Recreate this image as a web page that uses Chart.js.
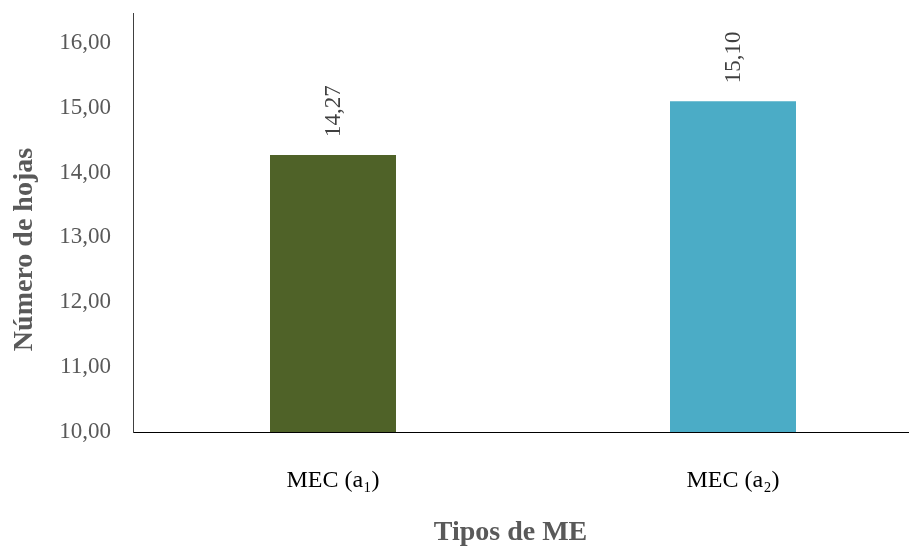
<!DOCTYPE html>
<html><head><meta charset="utf-8">
<script src="https://cdn.jsdelivr.net/npm/chart.js@4/dist/chart.umd.min.js"></script>
<style>html,body{margin:0;padding:0;background:#fff;overflow:hidden}#wrap{width:909px;height:546px;position:relative}</style>
</head><body><div id="wrap"><canvas id="c" width="909" height="546"></canvas></div>
<script>
const categories = ['MEC (a₁)', 'MEC (a₂)'];
const values = [14.27, 15.10];
const barColors = ['#4F6228', '#4BACC6'];
const yTicks = [10, 11, 12, 13, 14, 15, 16];
const xTitle = 'Tipos de ME';
const yTitle = 'Número de hojas';
const fmt = v => v.toFixed(2).replace('.', ',');
const FONT = '"Liberation Serif", "Times New Roman", serif';

const labelPlugin = {
  id: 'barLabels',
  afterDatasetsDraw(chart) {
    const ctx = chart.ctx;
    const meta = chart.getDatasetMeta(0);
    ctx.save();
    ctx.font = '23px ' + FONT;
    ctx.fillStyle = '#404040';
    ctx.textAlign = 'left';
    ctx.textBaseline = 'middle';
    meta.data.forEach((bar, i) => {
      ctx.save();
      ctx.translate(bar.x + 1, bar.y - 18);
      ctx.rotate(-Math.PI / 2);
      ctx.fillText(fmt(values[i]), 0, 0);
      ctx.restore();
    });
    ctx.restore();
  }
};

const axisTitles = {
  id: 'axisTitles',
  afterDraw(chart) {
    const ctx = chart.ctx;
    const a = chart.chartArea;
    ctx.save();
    ctx.font = 'bold 28px ' + FONT;
    ctx.fillStyle = '#595959';
    ctx.textAlign = 'center';
    ctx.textBaseline = 'alphabetic';
    // x-axis title
    ctx.fillText(xTitle, (a.left + a.right) / 2 - 10, chart.height - 6);
    // y-axis title
    ctx.save();
    ctx.translate(32, (a.top + a.bottom) / 2 + 27);
    ctx.rotate(-Math.PI / 2);
    ctx.fillText(yTitle, 0, 0);
    ctx.restore();
    ctx.restore();
  }
};

new Chart(document.getElementById('c'), {
  type: 'bar',
  data: {
    labels: categories,
    datasets: [{ data: values, backgroundColor: barColors, borderWidth: 0,
      barPercentage: 0.315, categoryPercentage: 1 }]
  },
  options: {
    responsive: false,
    animation: false,
    devicePixelRatio: 1,
    layout: { padding: { top: 13, right: 1, left: 0, bottom: 0 } },
    plugins: { legend: { display: false }, tooltip: { enabled: false } },
    scales: {
      x: {
        type: 'category',
        offset: true,
        grid: { display: false, drawTicks: false },
        border: { display: true, color: '#000000', width: 1 },
        ticks: { color: '#000000', font: { family: FONT, size: 24 }, padding: 34, maxRotation: 0 },
        title: { display: false, text: xTitle },
        afterBuildTicks: s => { s._valueRange = 1.9375; },
        afterFit: s => { s.height = 114; s.paddingLeft = 0; s.paddingRight = 0; }
      },
      y: {
        min: 10,
        max: 16.46,
        grid: { display: false, drawTicks: false },
        border: { display: true, color: '#404040', width: 1 },
        ticks: { stepSize: 1, color: '#595959', font: { family: FONT, size: 23 }, padding: 22,
          callback: v => fmt(v) },
        afterBuildTicks: s => { s.ticks = yTicks.map(v => ({ value: v })); },
        title: { display: false, text: yTitle },
        afterFit: s => { s.width = 133; s.paddingTop = 0; s.paddingBottom = 0; }
      }
    }
  },
  plugins: [labelPlugin, axisTitles]
});
</script></body></html>
